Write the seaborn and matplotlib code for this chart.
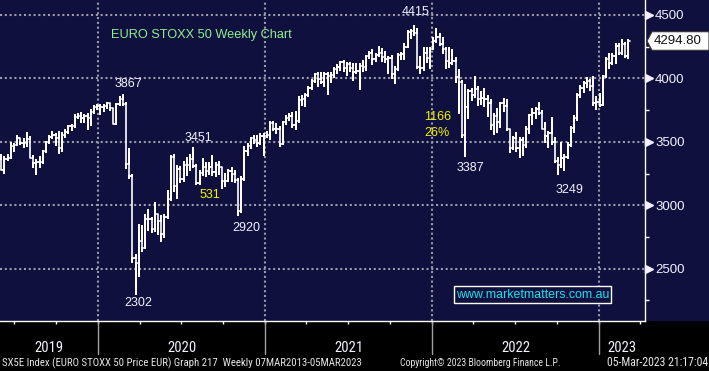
import matplotlib
matplotlib.use("Agg")
import matplotlib.pyplot as plt
import matplotlib.dates as mdates
import matplotlib.transforms as mtransforms
from matplotlib import font_manager as fm
from matplotlib.patches import Polygon, Rectangle
import pandas as pd
import seaborn as sns

# ---------------- data (weekly OHLC, EURO STOXX 50, weeks ending Friday) ----------------
first_week = "2019-05-31"

opens_2019 = [3365, 3280, 3368, 3375, 3467, 3474, 3527, 3492, 3490, 3524, 3376, 3333, 3345, 3340, 3427, 3495,
              3538, 3553, 3530, 3448, 3556, 3580, 3624, 3623, 3699, 3706, 3686, 3704, 3688, 3732, 3776]
highs_2019 = [3400, 3380, 3400, 3490, 3485, 3550, 3530, 3520, 3570, 3540, 3385, 3360, 3380, 3430, 3500, 3550,
              3580, 3560, 3580, 3570, 3590, 3625, 3635, 3710, 3720, 3730, 3710, 3720, 3750, 3780, 3790]
lows_2019 = [3275, 3258, 3360, 3370, 3430, 3474, 3480, 3460, 3470, 3370, 3300, 3250, 3300, 3333, 3420, 3490,
             3530, 3478, 3410, 3430, 3540, 3570, 3590, 3620, 3690, 3660, 3660, 3600, 3633, 3730, 3760]
closes_2019 = [3280, 3368, 3375, 3467, 3474, 3527, 3492, 3490, 3524, 3376, 3333, 3345, 3340, 3427, 3495, 3538,
               3553, 3530, 3448, 3556, 3580, 3624, 3623, 3699, 3706, 3686, 3704, 3688, 3732, 3776, 3782]

opens_2020 = [3782, 3773, 3779, 3808, 3765, 3640, 3799, 3840, 3800, 3329, 3232, 2586, 2549, 2716, 2663, 2893,
              2888, 2810, 2928, 2880, 2770, 2905, 3050, 3384, 3153, 3288, 3210, 3320, 3320, 3366, 3311, 3174,
              3252, 3300, 3273, 3300, 3260, 3316, 3300, 3194, 3190, 3273, 3245, 3200, 2958, 3207, 3431, 3467,
              3527, 3516, 3490, 3545]
highs_2020 = [3790, 3790, 3810, 3810, 3770, 3800, 3850, 3867, 3810, 3443, 3235, 2610, 2848, 2835, 2927, 2966,
              2900, 3018, 2930, 2914, 2920, 3110, 3386, 3399, 3312, 3300, 3340, 3370, 3400, 3451, 3320, 3270,
              3365, 3330, 3330, 3390, 3330, 3340, 3300, 3250, 3280, 3290, 3270, 3210, 3220, 3460, 3480, 3530,
              3545, 3550, 3560, 3560]
lows_2020 = [3720, 3740, 3770, 3750, 3640, 3640, 3790, 3790, 3290, 3215, 2550, 2302, 2442, 2640, 2660, 2809,
             2790, 2800, 2770, 2717, 2750, 2900, 3040, 3110, 3058, 3180, 3190, 3240, 3280, 3300, 3170, 3170,
             3240, 3230, 3250, 3240, 3230, 3250, 3140, 3150, 3190, 3190, 3180, 2920, 2950, 3200, 3400, 3450,
             3490, 3470, 3480, 3400]
closes_2020 = [3773, 3779, 3808, 3765, 3640, 3799, 3840, 3800, 3329, 3232, 2586, 2549, 2716, 2663, 2893, 2888,
               2810, 2928, 2880, 2770, 2905, 3050, 3384, 3153, 3288, 3210, 3320, 3320, 3366, 3311, 3174, 3252,
               3300, 3273, 3300, 3260, 3316, 3300, 3194, 3190, 3273, 3245, 3200, 2958, 3207, 3431, 3467, 3527,
               3516, 3490, 3545, 3545]

opens_2021 = [3545, 3553, 3645, 3600, 3602, 3481, 3655, 3689, 3703, 3636, 3668, 3830, 3837, 3867, 3926, 3978,
              4032, 3995, 3975, 4034, 4017, 4025, 4071, 4089, 4127, 4083, 4110, 4084, 4047, 4058, 4100, 4089,
              4175, 4200, 4150, 4186, 4200, 4170, 4150, 4158, 4036, 4078, 4183, 4190, 4250, 4363, 4370, 4356,
              4089, 4080, 4200, 4162, 4233]
highs_2021 = [3580, 3660, 3660, 3640, 3620, 3660, 3700, 3720, 3730, 3735, 3850, 3860, 3880, 3935, 3985, 4035,
              4040, 4040, 4040, 4040, 4040, 4080, 4105, 4130, 4140, 4120, 4120, 4110, 4110, 4110, 4135, 4180,
              4210, 4220, 4195, 4245, 4230, 4210, 4170, 4180, 4090, 4190, 4200, 4270, 4370, 4385, 4415, 4390,
              4170, 4240, 4240, 4240, 4320]
lows_2021 = [3540, 3520, 3590, 3570, 3470, 3480, 3640, 3670, 3620, 3600, 3660, 3790, 3780, 3860, 3920, 3970,
             3940, 3960, 3940, 3880, 3970, 4010, 4040, 4070, 4060, 4030, 4060, 3990, 4040, 3920, 4060, 4070,
             4160, 4110, 4140, 4180, 4140, 4130, 4040, 4000, 3960, 4070, 4150, 4150, 4250, 4320, 4340, 4080,
             4040, 4070, 4130, 4080, 4230]
closes_2021 = [3553, 3645, 3600, 3602, 3481, 3655, 3689, 3703, 3636, 3668, 3830, 3837, 3867, 3926, 3978, 4032,
               3995, 3975, 4034, 4017, 4025, 4071, 4089, 4127, 4083, 4110, 4084, 4047, 4058, 4100, 4089, 4175,
               4200, 4150, 4186, 4200, 4170, 4150, 4158, 4036, 4078, 4183, 4190, 4250, 4363, 4370, 4356, 4089,
               4080, 4200, 4162, 4233, 4298]

opens_2022 = [4298, 4324, 4272, 4229, 4136, 4121, 4138, 4014, 3970, 3556, 3772, 3903, 3867, 3918, 3835, 3849,
              3841, 3803, 3630, 3703, 3657, 3806, 3783, 3599, 3450, 3533, 3448, 3515, 3477, 3604, 3708, 3725,
              3757, 3730, 3603, 3545, 3570, 3500, 3348, 3318, 3375, 3381, 3477, 3613, 3686, 3868, 3924, 3962,
              3977, 3942, 3804, 3817]
highs_2022 = [4392, 4350, 4320, 4240, 4240, 4220, 4160, 4070, 3980, 3950, 3905, 3920, 4015, 3935, 3890, 3920,
              3860, 3830, 3720, 3760, 3810, 3840, 3830, 3600, 3540, 3570, 3530, 3530, 3620, 3710, 3760, 3770,
              3810, 3740, 3650, 3580, 3690, 3530, 3370, 3490, 3400, 3490, 3620, 3700, 3880, 3940, 3970, 4000,
              3990, 4015, 3850, 3880]
lows_2022 = [4290, 4260, 4200, 4080, 4090, 4110, 3970, 3730, 3540, 3387, 3690, 3830, 3850, 3790, 3800, 3780,
             3700, 3600, 3560, 3580, 3620, 3740, 3595, 3420, 3440, 3430, 3380, 3400, 3460, 3570, 3640, 3690,
             3720, 3600, 3500, 3460, 3480, 3340, 3249, 3300, 3280, 3370, 3470, 3580, 3670, 3850, 3890, 3930,
             3910, 3790, 3760, 3780]
closes_2022 = [4324, 4272, 4229, 4136, 4121, 4138, 4014, 3970, 3556, 3772, 3903, 3867, 3918, 3835, 3849, 3841,
               3803, 3630, 3703, 3657, 3806, 3783, 3599, 3450, 3533, 3448, 3515, 3477, 3604, 3708, 3725, 3757,
               3730, 3603, 3545, 3570, 3500, 3348, 3318, 3375, 3381, 3477, 3613, 3686, 3868, 3924, 3962, 3977,
               3942, 3804, 3817, 3794]

opens_2023 = [3794, 4017, 4151, 4119, 4178, 4257, 4199, 4270, 4178]
highs_2023 = [4020, 4160, 4190, 4190, 4270, 4275, 4300, 4280, 4300]
lows_2023 = [3790, 4010, 4080, 4110, 4120, 4190, 4190, 4170, 4160]
closes_2023 = [4017, 4151, 4119, 4178, 4257, 4199, 4270, 4178, 4294.80]

y_ticks = [2500, 3000, 3500, 4000, 4500]
y_minor_ticks = [2250, 2750, 3250, 3750, 4250]
year_labels = ["2019", "2020", "2021", "2022", "2023"]

title = "EURO STOXX 50 Weekly Chart"
# (text, date, price, colour-kind)
annotations = [
    ("3867", "2020-03-08", 3955, "w"),
    ("3451", "2020-08-07", 3528, "w"),
    ("531", "2020-09-02", 3078, "y"),
    ("2302", "2020-03-29", 2233, "w"),
    ("2920", "2020-11-20", 2818, "w"),
    ("4415", "2021-11-25", 4523, "w"),
    ("1166", "2022-01-14", 3694, "y"),
    ("26%", "2022-01-12", 3568, "y"),
    ("3387", "2022-03-25", 3291, "w"),
    ("3249", "2022-10-28", 3118, "w"),
]
website = "www.marketmatters.com.au"
footer_left = "SX5E Index (EURO STOXX 50 Price EUR) Graph 217  Weekly 07MAR2013-05MAR2023"
footer_mid = "Copyright\u00a9 2023 Bloomberg Finance L.P."
footer_right = "05-Mar-2023 21:17:04"

opens = opens_2019 + opens_2020 + opens_2021 + opens_2022 + opens_2023
highs = highs_2019 + highs_2020 + highs_2021 + highs_2022 + highs_2023
lows = lows_2019 + lows_2020 + lows_2021 + lows_2022 + lows_2023
closes = closes_2019 + closes_2020 + closes_2021 + closes_2022 + closes_2023

df = pd.DataFrame({"week": pd.date_range(first_week, periods=len(closes), freq="7D"),
                   "open": opens, "high": highs, "low": lows, "close": closes})

# ---------------- style ----------------
NAVY = "#10103f"
WHITE = "#f2f2ff"
GRID = "#9a9aa8"
sns.set_theme(style="dark")
plt.rcParams["font.family"] = ["Liberation Sans", "DejaVu Sans"]


def find_narrow_font():
    """Pick an installed narrow / condensed regular face if there is one."""
    prefer = ["Liberation Sans Narrow", "Arial Narrow", "DejaVu Sans Condensed", "Roboto Condensed",
              "Open Sans Condensed", "Noto Sans Condensed"]
    entries = fm.fontManager.ttflist
    for p in prefer:
        for f in entries:
            if f.name == p and f.style == "normal" and f.weight in (400, "normal", "regular"):
                return fm.FontProperties(fname=f.fname)
    for f in entries:
        st = str(f.stretch).lower()
        if ("condensed" in st or "narrow" in f.name.lower() or "condensed" in f.name.lower()) \
                and "extra" not in st and "ultra" not in st and f.style == "normal" \
                and f.weight in (400, "normal", "regular"):
            return fm.FontProperties(fname=f.fname)
    return fm.FontProperties(family=["Liberation Sans", "DejaVu Sans"])


NARROW = find_narrow_font()

W, H = 709, 371
fig = plt.figure(figsize=(W / 100, H / 100), dpi=100, facecolor="black")
ax_l, ax_b, ax_w, ax_h = 0, 50 / H, 645 / W, 321 / H
ax = fig.add_axes([ax_l, ax_b, ax_w, ax_h])
ax.set_facecolor(NAVY)
# navy strip behind the price scale (drawn below the axes)
fig.patches.append(Rectangle((ax_w, ax_b), 1 - ax_w, ax_h, transform=fig.transFigure,
                             facecolor=NAVY, edgecolor="none", zorder=-5))

# ---------------- OHLC bars through seaborn ----------------
shift = pd.Timedelta(days=3.4)       # bar drawn just after its Friday stamp
half = pd.Timedelta(days=3)          # open / close tick length
rows = []
for k, r in df.iterrows():
    t = r["week"] + shift
    for xx, yy in [(t - half, r["open"]), (t, r["open"]), (t, r["high"]),
                   (t, r["low"]), (t, r["close"]), (t + half, r["close"])]:
        rows.append((k, xx, yy))
seg = pd.DataFrame(rows, columns=["bar", "date", "price"])
sns.lineplot(data=seg, x="date", y="price", units="bar", estimator=None, sort=False,
             color="white", lw=1.2, ax=ax, legend=False, zorder=3)

x0 = pd.Timestamp("2019-05-31 14:00")
x1 = x0 + pd.Timedelta(days=1411)
ax.set_xlim(x0, x1)
ax.set_ylim(2088, 4618)
ax.set_xlabel("")
ax.set_ylabel("")

# grid: dotted, horizontal at major prices, vertical at year starts
dot = (0, (1, 1.3))
for v in y_ticks:
    ax.axhline(v, color=GRID, lw=1.5, ls=dot, zorder=1)
year_starts = [pd.Timestamp(f"{y}-01-01") for y in range(2020, 2024)]
for d in year_starts:
    ax.axvline(d, color=GRID, lw=1.5, ls=dot, zorder=1)

# spines
for s in ["top", "left"]:
    ax.spines[s].set_visible(False)
for s in ["right", "bottom"]:
    ax.spines[s].set_visible(True)
    ax.spines[s].set_color("white")
    ax.spines[s].set_linewidth(1.0)

# right price scale
ax.set_yticks(y_ticks)
ax.set_yticklabels([str(v) for v in y_ticks])
ax.set_yticks(y_minor_ticks, minor=True)
ax.yaxis.set_ticks_position("right")
ax.tick_params(axis="y", which="both", left=False, labelleft=False, right=True, labelright=True)
ax.tick_params(axis="y", which="major", length=0, pad=7.3, labelsize=9.5, labelcolor=WHITE)
ax.tick_params(axis="y", which="minor", length=3, width=1, color="white", direction="out")
ybt = mtransforms.blended_transform_factory(ax.transAxes, ax.transData)
ax.plot([649 / 645] * len(y_ticks), y_ticks, ls="none", marker=">", ms=5.5, color=WHITE,
        transform=ybt, clip_on=False, zorder=5)

# bottom time axis: quarterly ticks, year separators, year labels
ax.xaxis.set_major_locator(mdates.MonthLocator(bymonth=[1, 4, 7, 10]))
ax.xaxis.set_major_formatter(plt.NullFormatter())
ax.tick_params(axis="x", which="major", length=2.5, width=1, color="white", direction="out", bottom=True)
xbt = mtransforms.blended_transform_factory(ax.transData, ax.transAxes)
for d in year_starts:
    ax.plot([d, d], [0, -33 / 321], color="#a0a0a0", lw=1, transform=xbt, clip_on=False)
bounds = [x0] + year_starts + [x1]
year_texts = []
for lab, a, b in zip(year_labels, bounds[:-1], bounds[1:]):
    mid = a + (b - a) / 2
    year_texts.append(ax.text(mid, -27 / 321, lab, transform=xbt, ha="center", va="center",
                              fontproperties=NARROW, fontsize=10.5, color=WHITE, clip_on=False))

# footer
fy = 1 - 363 / H
foot = [
    fig.text(2 / W, fy, footer_left, ha="left", va="center", fontproperties=NARROW, fontsize=7.3, color="#e6e6e6"),
    fig.text(400 / W, fy, footer_mid, ha="left", va="center", fontproperties=NARROW, fontsize=7.3, color="#e6e6e6"),
    fig.text(708 / W, fy, footer_right, ha="right", va="center", fontproperties=NARROW, fontsize=7.3, color="#e6e6e6"),
]

# title and annotations
ax.text(111 / 645, 1 - 35 / 321, title, transform=ax.transAxes, ha="left", va="center",
        fontsize=9.2, color="#8ff08f")
colors = {"w": WHITE, "y": "#f4f400"}
for txt, d, p, c in annotations:
    ax.text(pd.Timestamp(d), p, txt, ha="center", va="center", fontsize=9, color=colors[c], zorder=6)

ax.text(532.5 / 645, 1 - 294.5 / 321, website, transform=ax.transAxes, ha="center", va="center",
        fontsize=8.9, color="#19e3f0", zorder=6,
        bbox=dict(boxstyle="square,pad=0.18", facecolor=NAVY, edgecolor="white", lw=1))

# last price tag
last = closes[-1]
tag_t = mtransforms.blended_transform_factory(fig.transFigure, ax.transData)
hh = 9.3 * 2530 / 321
tag = Polygon([(647 / W, last), (652 / W, last + hh), (1.0, last + hh), (1.0, last - hh), (652 / W, last - hh)],
              closed=True, transform=tag_t, facecolor="white", edgecolor="#333333", lw=0.8,
              clip_on=False, zorder=7)
fig.patches.append(tag)
fig.text(654 / W, last, f"{last:.2f}", transform=tag_t, ha="left", va="center", fontsize=9.5,
         color="#111111", zorder=8)

# fit narrow footer texts to the widths they take in the Bloomberg layout
renderer = fig.canvas.get_renderer()


def fit_width(t, target_px, max_size=None):
    w = t.get_window_extent(renderer).width
    if w > 0:
        size = t.get_fontsize() * target_px / w
        if max_size:
            size = min(size, max_size)
        t.set_fontsize(size)


fit_width(foot[0], 360, 8.5)
fit_width(foot[1], 161, 8.5)
fit_width(foot[2], 103, 8.5)

fig.savefig("out.png", dpi=100, facecolor="black")
